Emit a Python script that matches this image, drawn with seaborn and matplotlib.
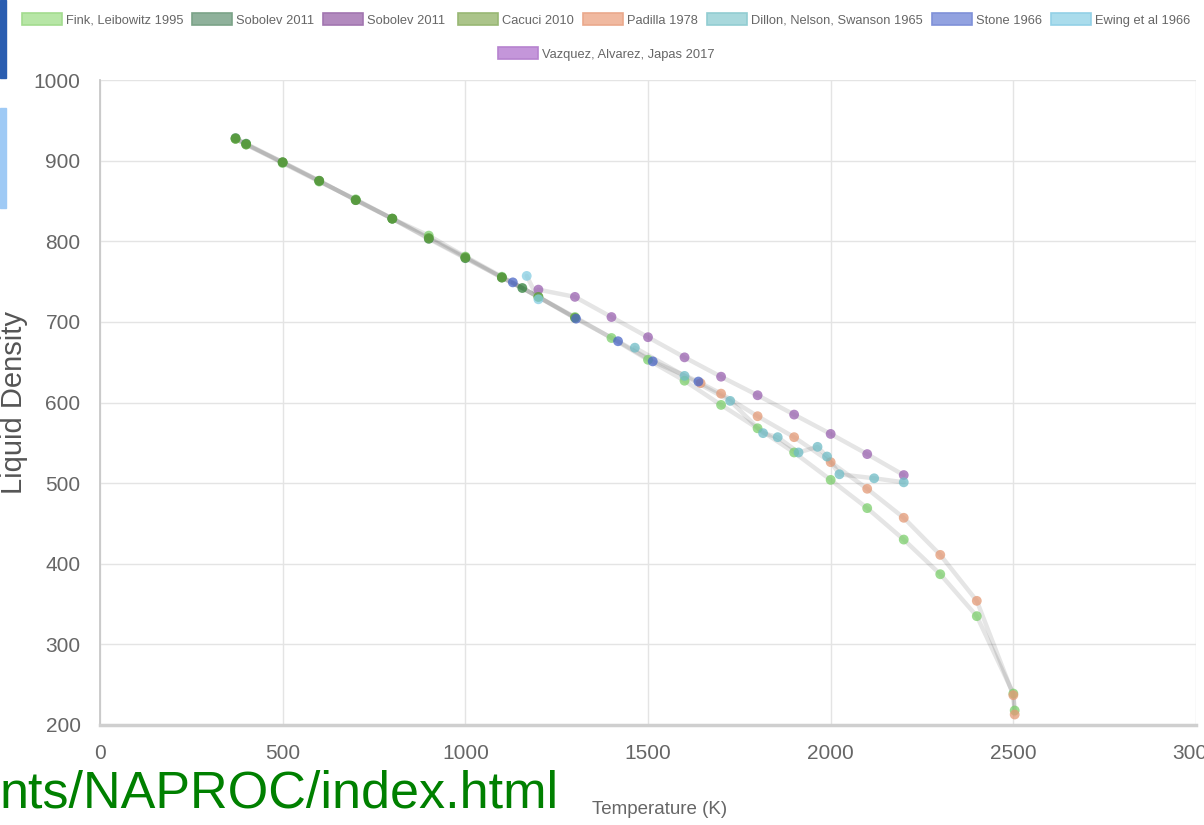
import pandas as pd
import numpy as np
import matplotlib
matplotlib.use('Agg')
import matplotlib.pyplot as plt
from matplotlib.patches import Patch, Rectangle
import seaborn as sns

# data (temperature K, liquid density)
fink_T = [371, 400, 500, 600, 700, 800, 900, 1000, 1100, 1200, 1300, 1400, 1500, 1600,
          1700, 1800, 1900, 2000, 2100, 2200, 2300, 2400, 2500, 2503.7]
fink_rho = [927, 920, 897, 874, 852, 828, 807, 781, 756, 731, 706, 680, 653, 627,
            597, 568, 538, 504, 469, 430, 387, 335, 239, 218]
sobolev_g_T = [371, 400, 500, 600, 700, 800, 900, 1000, 1100, 1156]
sobolev_g_rho = [928, 921, 898, 875, 851, 828, 803, 779, 755, 742]
sobolev_p_T = [1200, 1300, 1400, 1500, 1600, 1700, 1800, 1900, 2000, 2100, 2200]
sobolev_p_rho = [740, 731, 706, 681, 656, 632, 609, 585, 561, 536, 510]
cacuci_T = [371, 400, 500, 600, 700, 800, 900, 1000, 1100, 1200, 1300]
cacuci_rho = [927, 920, 898, 875, 851, 828, 804, 780, 755, 731, 705]
padilla_T = [1644, 1700, 1800, 1900, 2000, 2100, 2200, 2300, 2400, 2500, 2503.7]
padilla_rho = [624, 611, 583, 557, 526, 493, 457, 411, 354, 237, 213]
dillon_T = [1464, 1600, 1725, 1815, 1855, 1912, 1964, 1990, 2024, 2119, 2200]
dillon_rho = [668, 633, 602, 562, 557, 538, 545, 533, 511, 506, 501]
stone_T = [1130, 1303, 1418, 1513, 1638]
stone_rho = [749, 704, 676, 651, 626]
ewing_T = [1168, 1200]
ewing_rho = [757, 728]
vazquez_T = []
vazquez_rho = []

labels = ['Fink, Leibowitz 1995', 'Sobolev 2011', 'Sobolev 2011 ', 'Cacuci 2010', 'Padilla 1978',
          'Dillon, Nelson, Swanson 1965', 'Stone 1966', 'Ewing et al 1966', 'Vazquez, Alvarez, Japas 2017']
temps = [fink_T, sobolev_g_T, sobolev_p_T, cacuci_T, padilla_T, dillon_T, stone_T, ewing_T, vazquez_T]
dens = [fink_rho, sobolev_g_rho, sobolev_p_rho, cacuci_rho, padilla_rho, dillon_rho, stone_rho, ewing_rho, vazquez_rho]

legend_fill = ['#b7e6a6', '#8fb19b', '#b28abe', '#abc48a', '#f0b9a0', '#a8d8dc', '#92a2e0', '#aadcec', '#c496da']
legend_edge = ['#a3dc8f', '#7ba388', '#a276b0', '#98b774', '#eaa98c', '#92cdd2', '#7f91d8', '#93d1e6', '#b683cf']
point_col = ['#7ccf6c', '#2f7f3a', '#9a62b0', '#5f9e3c', '#e49a76', '#6fbcc6', '#4a66c6', '#85cde2', '#b070d0']

df = pd.concat([pd.DataFrame({'T': t, 'rho': r, 'series': l}) for t, r, l in zip(temps, dens, labels) if len(t)],
               ignore_index=True)

sns.set_theme(style='white')
plt.rcParams['font.family'] = ['Liberation Sans', 'DejaVu Sans']

fig = plt.figure(figsize=(12.04, 8.25), dpi=100)
ax = fig.add_axes([100 / 1204, 1 - 725 / 825, 1096 / 1204, 645 / 825])

sns.lineplot(data=df, x='T', y='rho', units='series', estimator=None, sort=False,
             color='black', alpha=0.1, lw=3.2, ax=ax, legend=False)
sns.scatterplot(data=df, x='T', y='rho', hue='series', palette=dict(zip(labels, point_col)),
                s=50, alpha=0.75, linewidth=0, ax=ax, legend=False, zorder=3)

ax.set_xlim(0, 3000)
ax.set_ylim(200, 1000)
ax.set_xticks(range(0, 3001, 500))
ax.set_yticks(range(200, 1001, 100))
ax.grid(True, color='#e4e4e4', lw=1)
ax.set_axisbelow(True)
ax.tick_params(axis='both', length=10, width=1, color='#e4e4e4', labelsize=15,
               labelcolor='#666666', pad=4)
ax.set_xlabel('')
ax.set_ylabel('')
for s in ['top', 'right']:
    ax.spines[s].set_visible(False)
ax.spines['left'].set_color('#c8c8c8')
ax.spines['left'].set_linewidth(1.3)
ax.spines['bottom'].set_color('#cfcfcf')
ax.spines['bottom'].set_linewidth(2.5)

# legend, two centred rows
handles = [Patch(facecolor=f, edgecolor=e, lw=1.2, label=l)
           for f, e, l in zip(legend_fill, legend_edge, labels)]
kw = dict(frameon=False, fontsize=9.3, handlelength=3.1, handleheight=1.08,
          handletextpad=0.31, columnspacing=0.7, labelcolor='#666666')
fig.legend(handles=handles[:8], ncol=8, loc='center', bbox_to_anchor=(606 / 1204, 1 - 20 / 825), **kw)
fig.legend(handles=handles[8:], ncol=1, loc='center', bbox_to_anchor=(606 / 1204, 1 - 54 / 825), **kw)

fig.text(660 / 1204, 1 - 809 / 825, 'Temperature (K)', ha='center', va='center',
         fontsize=13.5, color='#666666')
fig.text(14 / 1204, 1 - 402 / 825, 'Liquid Density', rotation=90, ha='center', va='center',
         fontsize=21, color='#555555')

# bits of the surrounding slide captured in the screenshot
fig.text(0, 1 - 808 / 825, 'nts/NAPROC/index.html', ha='left', va='baseline',
         fontsize=37.5, color='#008000')
fig.patches.append(Rectangle((0, 1 - 78 / 825), 6 / 1204, 78 / 825, transform=fig.transFigure,
                             color='#2a5db0', zorder=5))
fig.patches.append(Rectangle((0, 1 - 208 / 825), 6 / 1204, 100 / 825, transform=fig.transFigure,
                             color='#9fcaf5', zorder=5))

plt.savefig('out.png', dpi=100)
